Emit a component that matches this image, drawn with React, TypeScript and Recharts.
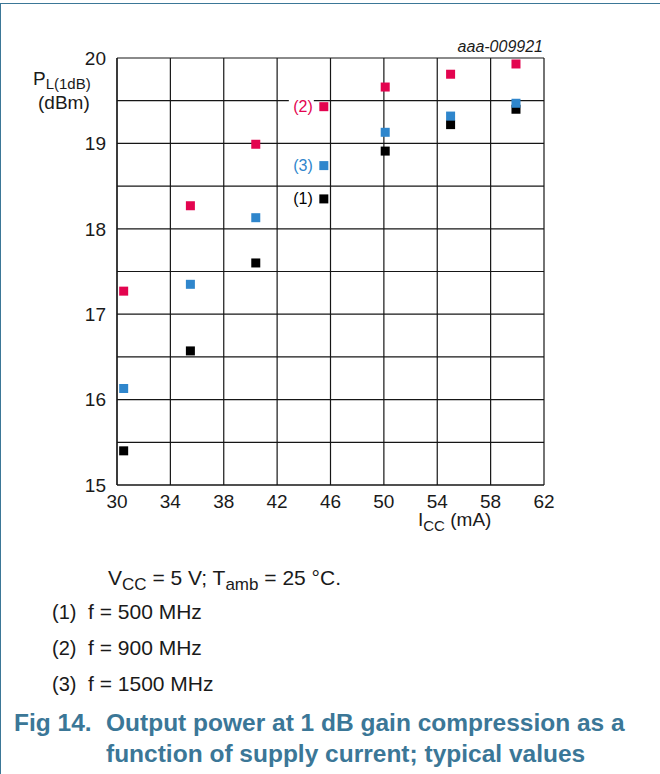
import { ScatterChart, Scatter, XAxis, YAxis, CartesianGrid } from 'recharts';

const FONT = '"Liberation Sans", Arial, Helvetica, sans-serif';
const TEAL = '#3b7797';
const INK = '#1a1a1a';

// supply current (mA) and P(1dB) readings per frequency
const iccMa = [30.5, 35.5, 40.4, 45.5, 50.1, 55, 59.9];
const p500MHz = [15.4, 16.57, 17.6, 18.35, 18.91, 19.22, 19.4];
const p900MHz = [17.27, 18.27, 18.99, 19.43, 19.66, 19.81, 19.93];
const p1500MHz = [16.13, 17.35, 18.13, 18.74, 19.13, 19.32, 19.47];

const xTicks = [30, 34, 38, 42, 46, 50, 54, 58, 62];
const yTicks = [15, 15.5, 16, 16.5, 17, 17.5, 18, 18.5, 19, 19.5, 20];

const curveTags = ['(1)', '(2)', '(3)'];
const frequencies = ['f = 500 MHz', 'f = 900 MHz', 'f = 1500 MHz'];
const tagIndex = 3; // point that carries the curve number

const toPoints = (values: number[], tag: string) =>
  iccMa.map((x, i) => ({ x, y: values[i], tag: i === tagIndex ? tag : '' }));

// black first so the blue squares sit on top where they overlap
const series = [
  { name: '500 MHz', data: toPoints(p500MHz, curveTags[0]), color: '#000000' },
  { name: '1500 MHz', data: toPoints(p1500MHz, curveTags[2]), color: '#2f86cc' },
  { name: '900 MHz', data: toPoints(p900MHz, curveTags[1]), color: '#e3044f' },
];

function SquareMark(props: any) {
  const { cx, cy, fill, payload } = props;
  return (
    <g>
      {payload.tag && (
        <>
          <rect x={cx - 35} y={cy - 10} width={25} height={18} fill="#fff" />
          <text x={cx - 11} y={cy + 5} textAnchor="end" fontSize={16} fontFamily={FONT} fill={fill}>
            {payload.tag}
          </text>
        </>
      )}
      <rect x={cx - 4.5} y={cy - 4.5} width={9} height={9} fill={fill} />
    </g>
  );
}

export default function App() {
  return (
    <div style={{ position: 'absolute', left: 0, top: 0, width: 660, height: 774, background: '#fff', fontFamily: FONT }}>
      {/* frame */}
      <div style={{ position: 'absolute', left: 0, top: 3, width: 660, height: 771, borderTop: `1.5px solid ${TEAL}`, borderLeft: `1.5px solid ${TEAL}` }} />

      <ScatterChart width={660} height={774} margin={{ top: 58, right: 116, bottom: 259, left: 57 }} style={{ position: 'absolute', left: 0, top: 0 }}>
        <CartesianGrid stroke="#161616" strokeWidth={1.2} />
        <XAxis
          type="number"
          dataKey="x"
          domain={[30, 62]}
          ticks={xTicks}
          height={30}
          tickLine={false}
          tickSize={0}
          tickMargin={10}
          axisLine={{ stroke: '#161616', strokeWidth: 1.2 }}
          tick={{ fill: INK, fontSize: 19, fontFamily: FONT }}
        />
        <YAxis
          type="number"
          dataKey="y"
          domain={[15, 20]}
          ticks={yTicks}
          width={60}
          tickLine={false}
          tickSize={0}
          tickMargin={11}
          axisLine={{ stroke: '#161616', strokeWidth: 1.2 }}
          tickFormatter={(v: number) => (Number.isInteger(v) ? String(v) : '')}
          tick={{ fill: INK, fontSize: 19, fontFamily: FONT }}
        />
        {series.map((s) => (
          <Scatter key={s.name} name={s.name} data={s.data} fill={s.color} shape={SquareMark} isAnimationActive={false} />
        ))}
      </ScatterChart>

      <svg width={660} height={774} style={{ position: 'absolute', left: 0, top: 0, pointerEvents: 'none' }} fontFamily={FONT}>
        <text x={543} y={52} textAnchor="end" fontSize={16} fontStyle="italic" fill={INK}>aaa-009921</text>

        {/* axis titles */}
        <text x={33} y={85} fontSize={19} fill={INK}>
          P<tspan fontSize={15} dy={4}>L(1dB)</tspan>
        </text>
        <text x={38} y={109} fontSize={19} fill={INK}>(dBm)</text>
        <text x={418} y={526} fontSize={19} fill={INK}>
          I<tspan fontSize={15} dy={5}>CC</tspan>
          <tspan dy={-5}> (mA)</tspan>
        </text>

        {/* conditions and curve key */}
        <text x={108} y={585} fontSize={21} fill={INK}>
          V<tspan fontSize={17} dy={5}>CC</tspan>
          <tspan dy={-5}> = 5 V; T</tspan>
          <tspan fontSize={17} dy={5}>amb</tspan>
          <tspan dy={-5}> = 25 °C.</tspan>
        </text>
        {curveTags.map((tag, i) => (
          <g key={tag}>
            <text x={52} y={619 + i * 36} fontSize={20} fill={INK}>{tag}</text>
            <text x={88} y={619 + i * 36} fontSize={21} fill={INK}>{frequencies[i]}</text>
          </g>
        ))}

        <text x={14} y={731} fontSize={24.5} fontWeight="bold" fill={TEAL}>Fig 14.</text>
        <text x={106} y={731} fontSize={24.5} fontWeight="bold" fill={TEAL}>Output power at 1 dB gain compression as a</text>
        <text x={106} y={762} fontSize={24.5} fontWeight="bold" fill={TEAL}>function of supply current; typical values</text>
      </svg>
    </div>
  );
}
